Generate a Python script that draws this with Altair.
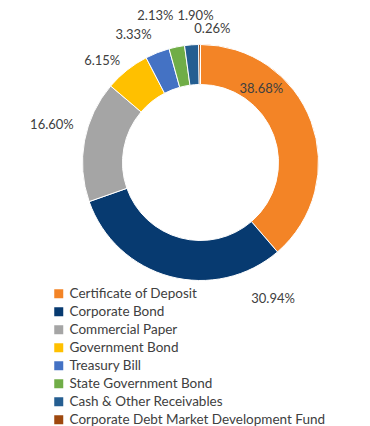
import altair as alt
import pandas as pd

categories = [
    "Certificate of Deposit",
    "Corporate Bond",
    "Commercial Paper",
    "Government Bond",
    "Treasury Bill",
    "State Government Bond",
    "Cash & Other Receivables",
    "Corporate Debt Market Development Fund",
]
values = [38.68, 30.94, 16.60, 6.15, 3.33, 2.13, 1.90, 0.26]
labels = ["38.68%", "30.94%", "16.60%", "6.15%", "3.33%", "2.13%", "1.90%", "0.26%"]
colors = ["#F38426", "#073A70", "#A5A5A5", "#FFC000", "#4472C4", "#70AD47", "#255E91", "#9E480E"]

df = pd.DataFrame({"category": categories, "value": values, "label": labels,
                   "order": list(range(len(categories)))})

CX, CY = 192.5, 154.5

arc = alt.Chart(df).mark_arc(innerRadius=78, outerRadius=118, stroke="white", strokeWidth=1).encode(
    theta=alt.Theta("value:Q", stack=True),
    order=alt.Order("order:Q"),
    color=alt.Color(
        "category:N",
        scale=alt.Scale(domain=categories, range=colors),
        sort=categories,
        legend=alt.Legend(
            title=None, orient="none", legendX=44, legendY=279, padding=0,
            symbolType="square", symbolSize=81, symbolStrokeWidth=0,
            labelFont="Lato", labelFontSize=13.5, labelColor="#404040",
            rowPadding=3, labelOffset=4, labelLimit=400,
        ),
    ),
    x=alt.value(CX), y=alt.value(CY),
)

# label placement (radius, dx, dy) per slice, like Excel's best-fit labels
placement = {
    "Certificate of Deposit": (98, -31, -39),
    "Corporate Bond": (145, 110, -4),
    "Commercial Paper": (145, -6, -11),
    "Government Bond": (145, -8, 12),
    "Treasury Bill": (145, -14, 7),
    "State Government Bond": (145, -16, -4),
    "Cash & Other Receivables": (145, 6, -2),
    "Corporate Debt Market Development Fund": (145, 13, 11),
}

text_base = alt.Chart(df).transform_joinaggregate(
    total="sum(value)"
).transform_window(
    cum="sum(value)", sort=[alt.SortField("order")], frame=[None, 0]
).transform_calculate(
    angle="2*PI*(datum.cum - datum.value/2)/datum.total"
)

layers = [arc]
for cat in categories:
    r, dx, dy = placement[cat]
    layers.append(
        text_base.transform_filter(alt.datum.category == cat).mark_text(
            radius=r, dx=dx, dy=dy, font="Lato", fontSize=13, color="#404040",
            align="center", baseline="middle",
        ).encode(
            theta=alt.Theta("angle:Q", scale=None),
            text="label:N",
            x=alt.value(CX), y=alt.value(CY),
        )
    )

chart = alt.layer(*layers).properties(
    width=354, height=410, padding=0,
).configure_view(stroke=None)

chart.save("out.html", embed_options={"renderer": "svg", "actions": False})
